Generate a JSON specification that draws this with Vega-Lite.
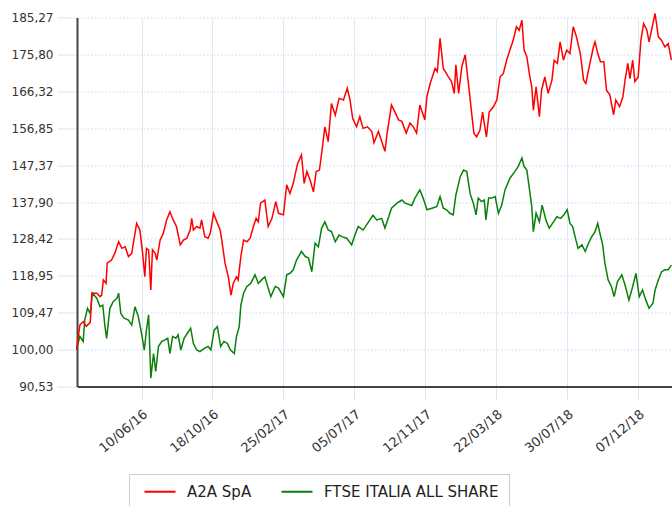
{
  "$schema": "https://vega.github.io/schema/vega-lite/v6.json",
  "width": 595,
  "height": 369,
  "autosize": "none",
  "padding": {"left": 77, "top": 17.5, "right": 0, "bottom": 119.5},
  "background": "white",
  "config": {
    "view": {"stroke": null},
    "font": "DejaVu Sans"
  },
  "data": {"values": [
{"date":"2016-02-12","series":"FTSE ITALIA ALL SHARE","value":100.0},{"date":"2016-02-18","series":"FTSE ITALIA ALL SHARE","value":103.4},{"date":"2016-02-24","series":"FTSE ITALIA ALL SHARE","value":102.1},{"date":"2016-02-27","series":"FTSE ITALIA ALL SHARE","value":107.6},{"date":"2016-03-03","series":"FTSE ITALIA ALL SHARE","value":110.6},{"date":"2016-03-08","series":"FTSE ITALIA ALL SHARE","value":109.3},{"date":"2016-03-12","series":"FTSE ITALIA ALL SHARE","value":114.5},{"date":"2016-03-20","series":"FTSE ITALIA ALL SHARE","value":113.2},{"date":"2016-03-26","series":"FTSE ITALIA ALL SHARE","value":111.0},{"date":"2016-03-31","series":"FTSE ITALIA ALL SHARE","value":111.4},{"date":"2016-04-04","series":"FTSE ITALIA ALL SHARE","value":105.9},{"date":"2016-04-07","series":"FTSE ITALIA ALL SHARE","value":102.9},{"date":"2016-04-13","series":"FTSE ITALIA ALL SHARE","value":110.6},{"date":"2016-04-19","series":"FTSE ITALIA ALL SHARE","value":112.3},{"date":"2016-04-26","series":"FTSE ITALIA ALL SHARE","value":113.2},{"date":"2016-04-29","series":"FTSE ITALIA ALL SHARE","value":114.5},{"date":"2016-05-03","series":"FTSE ITALIA ALL SHARE","value":109.3},{"date":"2016-05-09","series":"FTSE ITALIA ALL SHARE","value":108.1},{"date":"2016-05-17","series":"FTSE ITALIA ALL SHARE","value":107.6},{"date":"2016-05-23","series":"FTSE ITALIA ALL SHARE","value":106.3},{"date":"2016-05-29","series":"FTSE ITALIA ALL SHARE","value":111.0},{"date":"2016-06-04","series":"FTSE ITALIA ALL SHARE","value":108.5},{"date":"2016-06-10","series":"FTSE ITALIA ALL SHARE","value":104.2},{"date":"2016-06-15","series":"FTSE ITALIA ALL SHARE","value":99.9},{"date":"2016-06-19","series":"FTSE ITALIA ALL SHARE","value":105.0},{"date":"2016-06-23","series":"FTSE ITALIA ALL SHARE","value":108.9},{"date":"2016-06-27","series":"FTSE ITALIA ALL SHARE","value":92.7},{"date":"2016-07-02","series":"FTSE ITALIA ALL SHARE","value":99.0},{"date":"2016-07-06","series":"FTSE ITALIA ALL SHARE","value":94.4},{"date":"2016-07-11","series":"FTSE ITALIA ALL SHARE","value":100.8},{"date":"2016-07-17","series":"FTSE ITALIA ALL SHARE","value":102.1},{"date":"2016-07-23","series":"FTSE ITALIA ALL SHARE","value":102.5},{"date":"2016-07-28","series":"FTSE ITALIA ALL SHARE","value":102.9},{"date":"2016-08-01","series":"FTSE ITALIA ALL SHARE","value":99.0},{"date":"2016-08-06","series":"FTSE ITALIA ALL SHARE","value":103.4},{"date":"2016-08-12","series":"FTSE ITALIA ALL SHARE","value":102.9},{"date":"2016-08-16","series":"FTSE ITALIA ALL SHARE","value":103.8},{"date":"2016-08-21","series":"FTSE ITALIA ALL SHARE","value":99.9},{"date":"2016-08-27","series":"FTSE ITALIA ALL SHARE","value":102.9},{"date":"2016-09-02","series":"FTSE ITALIA ALL SHARE","value":104.2},{"date":"2016-09-08","series":"FTSE ITALIA ALL SHARE","value":105.5},{"date":"2016-09-13","series":"FTSE ITALIA ALL SHARE","value":101.6},{"date":"2016-09-19","series":"FTSE ITALIA ALL SHARE","value":99.9},{"date":"2016-09-25","series":"FTSE ITALIA ALL SHARE","value":99.5},{"date":"2016-10-03","series":"FTSE ITALIA ALL SHARE","value":100.3},{"date":"2016-10-10","series":"FTSE ITALIA ALL SHARE","value":100.8},{"date":"2016-10-15","series":"FTSE ITALIA ALL SHARE","value":99.9},{"date":"2016-10-21","series":"FTSE ITALIA ALL SHARE","value":105.0},{"date":"2016-10-27","series":"FTSE ITALIA ALL SHARE","value":105.9},{"date":"2016-11-02","series":"FTSE ITALIA ALL SHARE","value":100.8},{"date":"2016-11-08","series":"FTSE ITALIA ALL SHARE","value":102.1},{"date":"2016-11-14","series":"FTSE ITALIA ALL SHARE","value":101.6},{"date":"2016-11-20","series":"FTSE ITALIA ALL SHARE","value":99.9},{"date":"2016-11-27","series":"FTSE ITALIA ALL SHARE","value":99.0},{"date":"2016-12-01","series":"FTSE ITALIA ALL SHARE","value":103.4},{"date":"2016-12-06","series":"FTSE ITALIA ALL SHARE","value":105.9},{"date":"2016-12-09","series":"FTSE ITALIA ALL SHARE","value":111.4},{"date":"2016-12-14","series":"FTSE ITALIA ALL SHARE","value":114.5},{"date":"2016-12-20","series":"FTSE ITALIA ALL SHARE","value":116.2},{"date":"2016-12-27","series":"FTSE ITALIA ALL SHARE","value":117.0},{"date":"2017-01-04","series":"FTSE ITALIA ALL SHARE","value":119.2},{"date":"2017-01-10","series":"FTSE ITALIA ALL SHARE","value":117.0},{"date":"2017-01-16","series":"FTSE ITALIA ALL SHARE","value":117.9},{"date":"2017-01-22","series":"FTSE ITALIA ALL SHARE","value":118.7},{"date":"2017-01-28","series":"FTSE ITALIA ALL SHARE","value":115.8},{"date":"2017-02-02","series":"FTSE ITALIA ALL SHARE","value":113.6},{"date":"2017-02-10","series":"FTSE ITALIA ALL SHARE","value":116.2},{"date":"2017-02-16","series":"FTSE ITALIA ALL SHARE","value":115.8},{"date":"2017-02-25","series":"FTSE ITALIA ALL SHARE","value":113.6},{"date":"2017-03-03","series":"FTSE ITALIA ALL SHARE","value":119.2},{"date":"2017-03-09","series":"FTSE ITALIA ALL SHARE","value":119.6},{"date":"2017-03-15","series":"FTSE ITALIA ALL SHARE","value":120.5},{"date":"2017-03-21","series":"FTSE ITALIA ALL SHARE","value":123.0},{"date":"2017-03-30","series":"FTSE ITALIA ALL SHARE","value":125.2},{"date":"2017-04-06","series":"FTSE ITALIA ALL SHARE","value":123.9},{"date":"2017-04-12","series":"FTSE ITALIA ALL SHARE","value":123.5},{"date":"2017-04-18","series":"FTSE ITALIA ALL SHARE","value":120.0},{"date":"2017-04-24","series":"FTSE ITALIA ALL SHARE","value":127.3},{"date":"2017-04-30","series":"FTSE ITALIA ALL SHARE","value":126.4},{"date":"2017-05-06","series":"FTSE ITALIA ALL SHARE","value":131.2},{"date":"2017-05-12","series":"FTSE ITALIA ALL SHARE","value":132.8},{"date":"2017-05-18","series":"FTSE ITALIA ALL SHARE","value":130.7},{"date":"2017-05-24","series":"FTSE ITALIA ALL SHARE","value":130.3},{"date":"2017-05-31","series":"FTSE ITALIA ALL SHARE","value":127.7},{"date":"2017-06-07","series":"FTSE ITALIA ALL SHARE","value":129.4},{"date":"2017-06-12","series":"FTSE ITALIA ALL SHARE","value":129.0},{"date":"2017-06-21","series":"FTSE ITALIA ALL SHARE","value":128.6},{"date":"2017-06-30","series":"FTSE ITALIA ALL SHARE","value":126.9},{"date":"2017-07-06","series":"FTSE ITALIA ALL SHARE","value":129.4},{"date":"2017-07-12","series":"FTSE ITALIA ALL SHARE","value":131.6},{"date":"2017-07-21","series":"FTSE ITALIA ALL SHARE","value":130.7},{"date":"2017-07-31","series":"FTSE ITALIA ALL SHARE","value":132.8},{"date":"2017-08-08","series":"FTSE ITALIA ALL SHARE","value":134.5},{"date":"2017-08-15","series":"FTSE ITALIA ALL SHARE","value":133.3},{"date":"2017-08-24","series":"FTSE ITALIA ALL SHARE","value":133.7},{"date":"2017-08-30","series":"FTSE ITALIA ALL SHARE","value":131.2},{"date":"2017-09-05","series":"FTSE ITALIA ALL SHARE","value":133.7},{"date":"2017-09-11","series":"FTSE ITALIA ALL SHARE","value":136.3},{"date":"2017-09-21","series":"FTSE ITALIA ALL SHARE","value":137.6},{"date":"2017-09-30","series":"FTSE ITALIA ALL SHARE","value":138.4},{"date":"2017-10-06","series":"FTSE ITALIA ALL SHARE","value":137.6},{"date":"2017-10-18","series":"FTSE ITALIA ALL SHARE","value":137.0},{"date":"2017-10-24","series":"FTSE ITALIA ALL SHARE","value":138.9},{"date":"2017-11-02","series":"FTSE ITALIA ALL SHARE","value":141.0},{"date":"2017-11-08","series":"FTSE ITALIA ALL SHARE","value":138.9},{"date":"2017-11-15","series":"FTSE ITALIA ALL SHARE","value":135.9},{"date":"2017-11-24","series":"FTSE ITALIA ALL SHARE","value":136.3},{"date":"2017-12-03","series":"FTSE ITALIA ALL SHARE","value":136.7},{"date":"2017-12-09","series":"FTSE ITALIA ALL SHARE","value":139.3},{"date":"2017-12-15","series":"FTSE ITALIA ALL SHARE","value":136.3},{"date":"2017-12-21","series":"FTSE ITALIA ALL SHARE","value":135.9},{"date":"2017-12-27","series":"FTSE ITALIA ALL SHARE","value":135.0},{"date":"2018-01-02","series":"FTSE ITALIA ALL SHARE","value":134.6},{"date":"2018-01-07","series":"FTSE ITALIA ALL SHARE","value":139.7},{"date":"2018-01-15","series":"FTSE ITALIA ALL SHARE","value":144.4},{"date":"2018-01-21","series":"FTSE ITALIA ALL SHARE","value":146.1},{"date":"2018-01-27","series":"FTSE ITALIA ALL SHARE","value":145.7},{"date":"2018-02-02","series":"FTSE ITALIA ALL SHARE","value":140.1},{"date":"2018-02-08","series":"FTSE ITALIA ALL SHARE","value":137.6},{"date":"2018-02-13","series":"FTSE ITALIA ALL SHARE","value":134.6},{"date":"2018-02-17","series":"FTSE ITALIA ALL SHARE","value":138.9},{"date":"2018-02-23","series":"FTSE ITALIA ALL SHARE","value":138.0},{"date":"2018-02-28","series":"FTSE ITALIA ALL SHARE","value":138.4},{"date":"2018-03-03","series":"FTSE ITALIA ALL SHARE","value":133.3},{"date":"2018-03-08","series":"FTSE ITALIA ALL SHARE","value":138.9},{"date":"2018-03-14","series":"FTSE ITALIA ALL SHARE","value":138.9},{"date":"2018-03-20","series":"FTSE ITALIA ALL SHARE","value":139.3},{"date":"2018-03-26","series":"FTSE ITALIA ALL SHARE","value":135.0},{"date":"2018-04-01","series":"FTSE ITALIA ALL SHARE","value":137.1},{"date":"2018-04-07","series":"FTSE ITALIA ALL SHARE","value":141.0},{"date":"2018-04-16","series":"FTSE ITALIA ALL SHARE","value":144.0},{"date":"2018-04-25","series":"FTSE ITALIA ALL SHARE","value":145.7},{"date":"2018-05-01","series":"FTSE ITALIA ALL SHARE","value":147.0},{"date":"2018-05-08","series":"FTSE ITALIA ALL SHARE","value":149.2},{"date":"2018-05-12","series":"FTSE ITALIA ALL SHARE","value":147.0},{"date":"2018-05-17","series":"FTSE ITALIA ALL SHARE","value":146.1},{"date":"2018-05-22","series":"FTSE ITALIA ALL SHARE","value":141.0},{"date":"2018-05-26","series":"FTSE ITALIA ALL SHARE","value":136.7},{"date":"2018-05-29","series":"FTSE ITALIA ALL SHARE","value":130.3},{"date":"2018-06-03","series":"FTSE ITALIA ALL SHARE","value":135.0},{"date":"2018-06-09","series":"FTSE ITALIA ALL SHARE","value":132.8},{"date":"2018-06-14","series":"FTSE ITALIA ALL SHARE","value":137.1},{"date":"2018-06-21","series":"FTSE ITALIA ALL SHARE","value":133.3},{"date":"2018-06-27","series":"FTSE ITALIA ALL SHARE","value":131.2},{"date":"2018-07-05","series":"FTSE ITALIA ALL SHARE","value":132.8},{"date":"2018-07-11","series":"FTSE ITALIA ALL SHARE","value":134.1},{"date":"2018-07-18","series":"FTSE ITALIA ALL SHARE","value":133.7},{"date":"2018-07-24","series":"FTSE ITALIA ALL SHARE","value":134.6},{"date":"2018-07-30","series":"FTSE ITALIA ALL SHARE","value":135.9},{"date":"2018-08-04","series":"FTSE ITALIA ALL SHARE","value":132.4},{"date":"2018-08-09","series":"FTSE ITALIA ALL SHARE","value":131.6},{"date":"2018-08-15","series":"FTSE ITALIA ALL SHARE","value":128.1},{"date":"2018-08-19","series":"FTSE ITALIA ALL SHARE","value":126.0},{"date":"2018-08-26","series":"FTSE ITALIA ALL SHARE","value":126.9},{"date":"2018-09-01","series":"FTSE ITALIA ALL SHARE","value":125.2},{"date":"2018-09-07","series":"FTSE ITALIA ALL SHARE","value":127.3},{"date":"2018-09-13","series":"FTSE ITALIA ALL SHARE","value":129.0},{"date":"2018-09-19","series":"FTSE ITALIA ALL SHARE","value":130.3},{"date":"2018-09-24","series":"FTSE ITALIA ALL SHARE","value":132.4},{"date":"2018-09-28","series":"FTSE ITALIA ALL SHARE","value":129.8},{"date":"2018-10-03","series":"FTSE ITALIA ALL SHARE","value":126.9},{"date":"2018-10-07","series":"FTSE ITALIA ALL SHARE","value":122.2},{"date":"2018-10-13","series":"FTSE ITALIA ALL SHARE","value":117.9},{"date":"2018-10-19","series":"FTSE ITALIA ALL SHARE","value":116.2},{"date":"2018-10-24","series":"FTSE ITALIA ALL SHARE","value":113.6},{"date":"2018-10-30","series":"FTSE ITALIA ALL SHARE","value":117.4},{"date":"2018-11-07","series":"FTSE ITALIA ALL SHARE","value":119.2},{"date":"2018-11-13","series":"FTSE ITALIA ALL SHARE","value":116.6},{"date":"2018-11-20","series":"FTSE ITALIA ALL SHARE","value":112.7},{"date":"2018-11-27","series":"FTSE ITALIA ALL SHARE","value":116.2},{"date":"2018-12-03","series":"FTSE ITALIA ALL SHARE","value":119.6},{"date":"2018-12-09","series":"FTSE ITALIA ALL SHARE","value":113.6},{"date":"2018-12-15","series":"FTSE ITALIA ALL SHARE","value":115.3},{"date":"2018-12-21","series":"FTSE ITALIA ALL SHARE","value":112.7},{"date":"2018-12-27","series":"FTSE ITALIA ALL SHARE","value":110.6},{"date":"2019-01-03","series":"FTSE ITALIA ALL SHARE","value":111.9},{"date":"2019-01-07","series":"FTSE ITALIA ALL SHARE","value":115.3},{"date":"2019-01-13","series":"FTSE ITALIA ALL SHARE","value":117.9},{"date":"2019-01-19","series":"FTSE ITALIA ALL SHARE","value":120.0},{"date":"2019-01-25","series":"FTSE ITALIA ALL SHARE","value":120.5},{"date":"2019-01-31","series":"FTSE ITALIA ALL SHARE","value":120.5},{"date":"2019-02-06","series":"FTSE ITALIA ALL SHARE","value":121.7},
{"date":"2016-02-12","series":"A2A SpA","value":100.0},{"date":"2016-02-18","series":"A2A SpA","value":106.3},{"date":"2016-02-24","series":"A2A SpA","value":107.2},{"date":"2016-03-01","series":"A2A SpA","value":106.0},{"date":"2016-03-08","series":"A2A SpA","value":107.0},{"date":"2016-03-11","series":"A2A SpA","value":114.5},{"date":"2016-03-20","series":"A2A SpA","value":114.5},{"date":"2016-03-26","series":"A2A SpA","value":113.6},{"date":"2016-03-29","series":"A2A SpA","value":114.0},{"date":"2016-04-01","series":"A2A SpA","value":117.9},{"date":"2016-04-06","series":"A2A SpA","value":117.0},{"date":"2016-04-08","series":"A2A SpA","value":122.2},{"date":"2016-04-16","series":"A2A SpA","value":123.0},{"date":"2016-04-22","series":"A2A SpA","value":124.7},{"date":"2016-04-29","series":"A2A SpA","value":127.7},{"date":"2016-05-05","series":"A2A SpA","value":126.0},{"date":"2016-05-11","series":"A2A SpA","value":126.4},{"date":"2016-05-17","series":"A2A SpA","value":123.9},{"date":"2016-05-23","series":"A2A SpA","value":124.7},{"date":"2016-06-01","series":"A2A SpA","value":132.4},{"date":"2016-06-07","series":"A2A SpA","value":130.7},{"date":"2016-06-12","series":"A2A SpA","value":124.7},{"date":"2016-06-16","series":"A2A SpA","value":118.7},{"date":"2016-06-19","series":"A2A SpA","value":126.0},{"date":"2016-06-23","series":"A2A SpA","value":125.6},{"date":"2016-06-27","series":"A2A SpA","value":115.3},{"date":"2016-06-30","series":"A2A SpA","value":125.6},{"date":"2016-07-05","series":"A2A SpA","value":124.7},{"date":"2016-07-08","series":"A2A SpA","value":123.0},{"date":"2016-07-14","series":"A2A SpA","value":128.1},{"date":"2016-07-20","series":"A2A SpA","value":129.9},{"date":"2016-07-26","series":"A2A SpA","value":133.3},{"date":"2016-08-01","series":"A2A SpA","value":135.4},{"date":"2016-08-07","series":"A2A SpA","value":133.3},{"date":"2016-08-13","series":"A2A SpA","value":131.6},{"date":"2016-08-20","series":"A2A SpA","value":126.9},{"date":"2016-08-26","series":"A2A SpA","value":128.1},{"date":"2016-09-01","series":"A2A SpA","value":128.6},{"date":"2016-09-07","series":"A2A SpA","value":130.7},{"date":"2016-09-10","series":"A2A SpA","value":133.7},{"date":"2016-09-13","series":"A2A SpA","value":130.7},{"date":"2016-09-19","series":"A2A SpA","value":131.6},{"date":"2016-09-25","series":"A2A SpA","value":131.2},{"date":"2016-09-28","series":"A2A SpA","value":133.3},{"date":"2016-10-04","series":"A2A SpA","value":129.0},{"date":"2016-10-10","series":"A2A SpA","value":128.6},{"date":"2016-10-14","series":"A2A SpA","value":129.9},{"date":"2016-10-20","series":"A2A SpA","value":135.0},{"date":"2016-10-26","series":"A2A SpA","value":132.8},{"date":"2016-11-01","series":"A2A SpA","value":130.7},{"date":"2016-11-04","series":"A2A SpA","value":128.1},{"date":"2016-11-10","series":"A2A SpA","value":122.2},{"date":"2016-11-16","series":"A2A SpA","value":118.7},{"date":"2016-11-21","series":"A2A SpA","value":114.0},{"date":"2016-11-25","series":"A2A SpA","value":117.0},{"date":"2016-12-01","series":"A2A SpA","value":118.7},{"date":"2016-12-04","series":"A2A SpA","value":117.9},{"date":"2016-12-09","series":"A2A SpA","value":123.9},{"date":"2016-12-14","series":"A2A SpA","value":128.1},{"date":"2016-12-20","series":"A2A SpA","value":127.7},{"date":"2016-12-26","series":"A2A SpA","value":128.6},{"date":"2017-01-01","series":"A2A SpA","value":131.6},{"date":"2017-01-06","series":"A2A SpA","value":133.7},{"date":"2017-01-10","series":"A2A SpA","value":132.8},{"date":"2017-01-14","series":"A2A SpA","value":137.6},{"date":"2017-01-22","series":"A2A SpA","value":138.4},{"date":"2017-01-28","series":"A2A SpA","value":131.6},{"date":"2017-02-04","series":"A2A SpA","value":133.7},{"date":"2017-02-11","series":"A2A SpA","value":138.0},{"date":"2017-02-16","series":"A2A SpA","value":135.0},{"date":"2017-02-25","series":"A2A SpA","value":134.6},{"date":"2017-03-03","series":"A2A SpA","value":142.3},{"date":"2017-03-09","series":"A2A SpA","value":140.1},{"date":"2017-03-15","series":"A2A SpA","value":142.7},{"date":"2017-03-23","series":"A2A SpA","value":147.8},{"date":"2017-03-30","series":"A2A SpA","value":150.0},{"date":"2017-04-04","series":"A2A SpA","value":142.7},{"date":"2017-04-09","series":"A2A SpA","value":145.7},{"date":"2017-04-15","series":"A2A SpA","value":143.5},{"date":"2017-04-21","series":"A2A SpA","value":140.5},{"date":"2017-04-26","series":"A2A SpA","value":145.7},{"date":"2017-05-02","series":"A2A SpA","value":146.1},{"date":"2017-05-06","series":"A2A SpA","value":150.4},{"date":"2017-05-12","series":"A2A SpA","value":157.2},{"date":"2017-05-18","series":"A2A SpA","value":153.4},{"date":"2017-05-24","series":"A2A SpA","value":163.2},{"date":"2017-05-31","series":"A2A SpA","value":160.2},{"date":"2017-06-07","series":"A2A SpA","value":164.5},{"date":"2017-06-15","series":"A2A SpA","value":164.1},{"date":"2017-06-22","series":"A2A SpA","value":167.1},{"date":"2017-06-27","series":"A2A SpA","value":164.1},{"date":"2017-07-02","series":"A2A SpA","value":159.3},{"date":"2017-07-09","series":"A2A SpA","value":157.2},{"date":"2017-07-15","series":"A2A SpA","value":159.8},{"date":"2017-07-21","series":"A2A SpA","value":156.8},{"date":"2017-07-29","series":"A2A SpA","value":157.2},{"date":"2017-08-06","series":"A2A SpA","value":156.0},{"date":"2017-08-10","series":"A2A SpA","value":153.1},{"date":"2017-08-18","series":"A2A SpA","value":156.0},{"date":"2017-08-24","series":"A2A SpA","value":153.5},{"date":"2017-08-30","series":"A2A SpA","value":150.9},{"date":"2017-09-03","series":"A2A SpA","value":155.6},{"date":"2017-09-11","series":"A2A SpA","value":162.8},{"date":"2017-09-17","series":"A2A SpA","value":161.1},{"date":"2017-09-24","series":"A2A SpA","value":159.0},{"date":"2017-09-30","series":"A2A SpA","value":158.6},{"date":"2017-10-08","series":"A2A SpA","value":155.6},{"date":"2017-10-15","series":"A2A SpA","value":158.2},{"date":"2017-10-21","series":"A2A SpA","value":157.2},{"date":"2017-10-27","series":"A2A SpA","value":155.6},{"date":"2017-11-02","series":"A2A SpA","value":162.8},{"date":"2017-11-11","series":"A2A SpA","value":159.0},{"date":"2017-11-15","series":"A2A SpA","value":165.0},{"date":"2017-11-21","series":"A2A SpA","value":168.4},{"date":"2017-11-30","series":"A2A SpA","value":172.2},{"date":"2017-12-04","series":"A2A SpA","value":171.4},{"date":"2017-12-09","series":"A2A SpA","value":179.9},{"date":"2017-12-15","series":"A2A SpA","value":172.2},{"date":"2017-12-24","series":"A2A SpA","value":170.1},{"date":"2017-12-30","series":"A2A SpA","value":168.8},{"date":"2018-01-04","series":"A2A SpA","value":165.8},{"date":"2018-01-07","series":"A2A SpA","value":173.1},{"date":"2018-01-12","series":"A2A SpA","value":165.8},{"date":"2018-01-18","series":"A2A SpA","value":172.7},{"date":"2018-01-24","series":"A2A SpA","value":175.7},{"date":"2018-01-30","series":"A2A SpA","value":168.3},{"date":"2018-02-05","series":"A2A SpA","value":160.6},{"date":"2018-02-09","series":"A2A SpA","value":155.5},{"date":"2018-02-14","series":"A2A SpA","value":154.6},{"date":"2018-02-20","series":"A2A SpA","value":156.3},{"date":"2018-02-25","series":"A2A SpA","value":161.0},{"date":"2018-03-01","series":"A2A SpA","value":157.2},{"date":"2018-03-04","series":"A2A SpA","value":154.6},{"date":"2018-03-09","series":"A2A SpA","value":161.0},{"date":"2018-03-17","series":"A2A SpA","value":162.4},{"date":"2018-03-23","series":"A2A SpA","value":164.1},{"date":"2018-03-29","series":"A2A SpA","value":170.0},{"date":"2018-04-04","series":"A2A SpA","value":170.9},{"date":"2018-04-10","series":"A2A SpA","value":174.3},{"date":"2018-04-16","series":"A2A SpA","value":176.9},{"date":"2018-04-22","series":"A2A SpA","value":179.4},{"date":"2018-04-28","series":"A2A SpA","value":182.9},{"date":"2018-05-03","series":"A2A SpA","value":182.0},{"date":"2018-05-08","series":"A2A SpA","value":184.6},{"date":"2018-05-12","series":"A2A SpA","value":176.9},{"date":"2018-05-17","series":"A2A SpA","value":175.2},{"date":"2018-05-22","series":"A2A SpA","value":170.5},{"date":"2018-05-26","series":"A2A SpA","value":167.5},{"date":"2018-05-29","series":"A2A SpA","value":161.5},{"date":"2018-06-03","series":"A2A SpA","value":167.5},{"date":"2018-06-09","series":"A2A SpA","value":159.8},{"date":"2018-06-13","series":"A2A SpA","value":166.6},{"date":"2018-06-19","series":"A2A SpA","value":170.0},{"date":"2018-06-25","series":"A2A SpA","value":165.8},{"date":"2018-07-02","series":"A2A SpA","value":169.2},{"date":"2018-07-06","series":"A2A SpA","value":174.3},{"date":"2018-07-12","series":"A2A SpA","value":173.5},{"date":"2018-07-17","series":"A2A SpA","value":179.0},{"date":"2018-07-23","series":"A2A SpA","value":174.3},{"date":"2018-07-29","series":"A2A SpA","value":176.9},{"date":"2018-08-04","series":"A2A SpA","value":176.0},{"date":"2018-08-10","series":"A2A SpA","value":182.9},{"date":"2018-08-16","series":"A2A SpA","value":180.3},{"date":"2018-08-23","series":"A2A SpA","value":176.0},{"date":"2018-08-29","series":"A2A SpA","value":169.2},{"date":"2018-09-02","series":"A2A SpA","value":168.3},{"date":"2018-09-09","series":"A2A SpA","value":173.1},{"date":"2018-09-16","series":"A2A SpA","value":177.7},{"date":"2018-09-19","series":"A2A SpA","value":179.0},{"date":"2018-09-24","series":"A2A SpA","value":176.0},{"date":"2018-09-29","series":"A2A SpA","value":173.9},{"date":"2018-10-05","series":"A2A SpA","value":173.9},{"date":"2018-10-10","series":"A2A SpA","value":166.6},{"date":"2018-10-16","series":"A2A SpA","value":165.4},{"date":"2018-10-23","series":"A2A SpA","value":160.3},{"date":"2018-10-27","series":"A2A SpA","value":164.1},{"date":"2018-11-03","series":"A2A SpA","value":162.4},{"date":"2018-11-09","series":"A2A SpA","value":164.9},{"date":"2018-11-13","series":"A2A SpA","value":169.2},{"date":"2018-11-18","series":"A2A SpA","value":173.5},{"date":"2018-11-22","series":"A2A SpA","value":169.6},{"date":"2018-11-27","series":"A2A SpA","value":174.3},{"date":"2018-12-01","series":"A2A SpA","value":168.8},{"date":"2018-12-07","series":"A2A SpA","value":170.0},{"date":"2018-12-12","series":"A2A SpA","value":179.4},{"date":"2018-12-17","series":"A2A SpA","value":183.7},{"date":"2018-12-23","series":"A2A SpA","value":182.0},{"date":"2018-12-27","series":"A2A SpA","value":179.0},{"date":"2019-01-03","series":"A2A SpA","value":183.7},{"date":"2019-01-07","series":"A2A SpA","value":186.3},{"date":"2019-01-13","series":"A2A SpA","value":180.3},{"date":"2019-01-19","series":"A2A SpA","value":179.4},{"date":"2019-01-25","series":"A2A SpA","value":177.7},{"date":"2019-01-31","series":"A2A SpA","value":178.6},{"date":"2019-02-06","series":"A2A SpA","value":174.3}
  ]},
  "mark": {"type": "line", "strokeWidth": 1.5, "interpolate": "linear"},
  "encoding": {
    "x": {
      "field": "date", "type": "temporal",
      "scale": {"type": "utc", "domain": [{"year": 2016, "month": 2, "date": 12, "hours": 18, "utc": true}, {"year": 2019, "month": 2, "date": 7, "utc": true}]},
      "axis": {
        "title": null,
        "values": [
          {"year": 2016, "month": 6, "date": 10, "utc": true},
          {"year": 2016, "month": 10, "date": 18, "utc": true},
          {"year": 2017, "month": 2, "date": 25, "utc": true},
          {"year": 2017, "month": 7, "date": 5, "utc": true},
          {"year": 2017, "month": 11, "date": 12, "utc": true},
          {"year": 2018, "month": 3, "date": 22, "utc": true},
          {"year": 2018, "month": 7, "date": 30, "utc": true},
          {"year": 2018, "month": 12, "date": 7, "utc": true}
        ],
        "format": "%d/%m/%y",
        "labelAngle": -40,
        "labelAlign": "right",
        "labelBaseline": "top",
        "labelFontSize": 13,
        "labelColor": "#333333",
        "labelPadding": 8,
        "labelFont": "DejaVu Sans",
        "labelOverlap": false,
        "tickSize": 13,
        "tickColor": "#d9e6f5",
        "domainColor": "#444444",
        "domainWidth": 2,
        "grid": true,
        "gridColor": "#dce8f6",
        "gridWidth": 1
      }
    },
    "y": {
      "field": "value", "type": "quantitative",
      "scale": {"domain": [90.53, 185.27], "nice": false, "zero": false},
      "axis": {
        "title": null,
        "values": [90.53, 100, 109.47, 118.95, 128.42, 137.90, 147.37, 156.85, 166.32, 175.80, 185.27],
        "labelExpr": "replace(format(datum.value, '.2f'), '.', ',')",
        "labelFontSize": 12,
        "labelColor": "#333333",
        "labelFont": "DejaVu Sans",
        "labelPadding": 4,
        "labelOverlap": false,
        "labelBound": false,
        "labelFlush": false,
        "tickSize": 20,
        "tickColor": "#d9e6f5",
        "domainColor": "#444444",
        "domainWidth": 2,
        "grid": true,
        "gridColor": "#c9dcf2",
        "gridDash": [1.5, 2],
        "gridWidth": 1
      }
    },
    "color": {
      "field": "series", "type": "nominal",
      "scale": {"domain": ["A2A SpA", "FTSE ITALIA ALL SHARE"], "range": ["#ff0000", "#0a800a"]},
      "legend": {
        "title": null,
        "orient": "none",
        "legendX": 52,
        "legendY": 456.5,
        "direction": "horizontal",
        "padding": 10,
        "strokeColor": "#cccccc",
        "fillColor": "white",
        "labelFontSize": 15,
        "labelFont": "DejaVu Sans",
        "labelColor": "#222222",
        "labelLimit": 400,
        "symbolType": "M-0.4,0H5.8",
        "symbolSize": 100,
        "symbolStrokeWidth": 2,
        "labelOffset": 33,
        "columnPadding": 24
      }
    }
  }
}
